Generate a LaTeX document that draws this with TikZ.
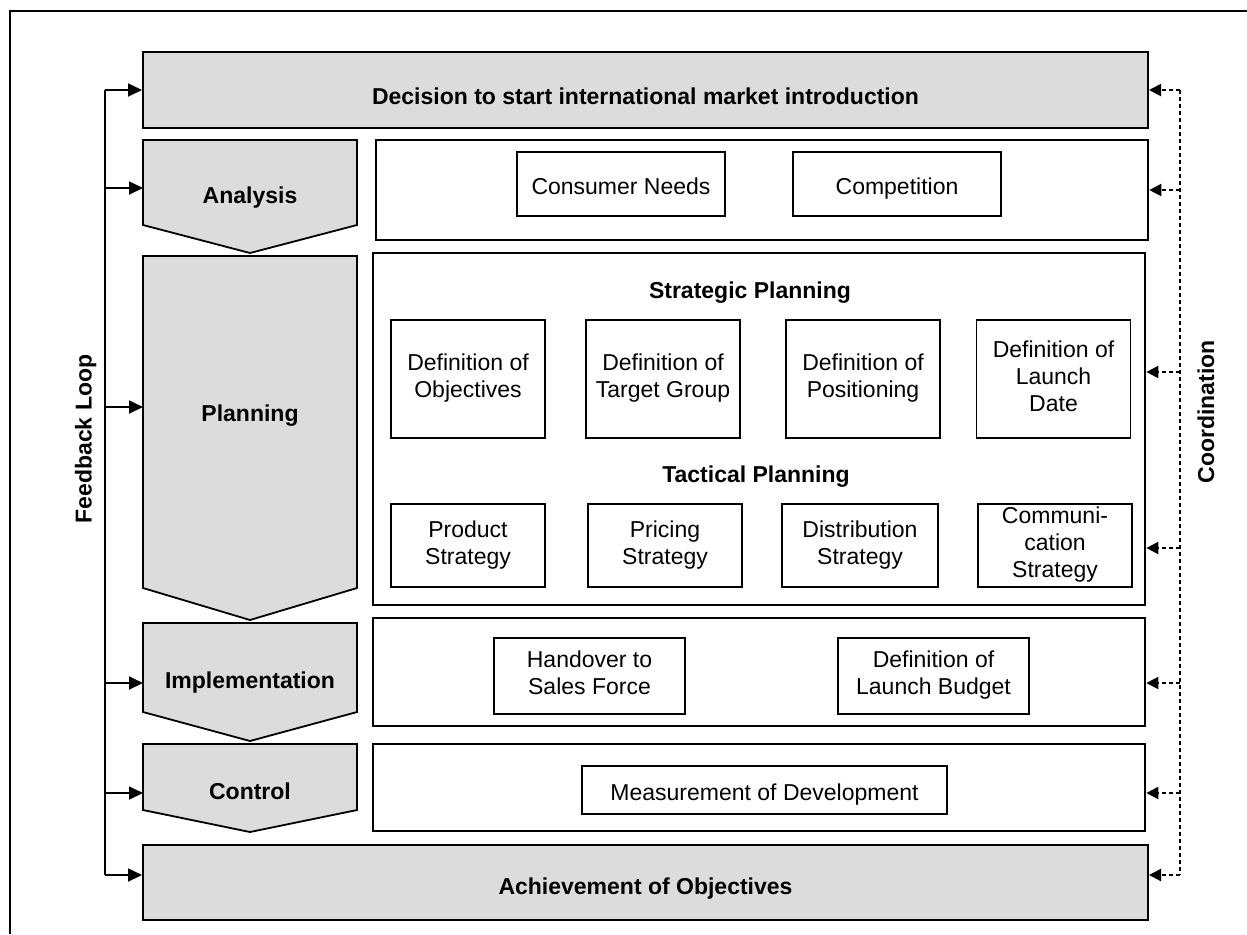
\documentclass[tikz,border=0pt]{standalone}
\usepackage{fontspec}
\setmainfont{Liberation Sans}
\usetikzlibrary{arrows.meta}

\definecolor{boxgray}{RGB}{220,220,220}
\newcommand{\dfont}{\fontsize{11.5pt}{13.5pt}\selectfont}

\tikzset{
    every node/.style={font=\dfont},
    frame/.style={line width=1.4pt},
    bar/.style={draw, line width=1pt, fill=boxgray, minimum width=502.5pt, inner sep=0pt},
    phase/.style={draw, line width=0.9pt, fill=boxgray, line join=miter},
    hdr/.style={anchor=base, font=\dfont\bfseries, inner sep=0pt},
    panel/.style={draw, line width=1.3pt, minimum width=386pt, inner sep=0pt},
    item/.style={draw, line width=0.9pt, align=center, inner sep=0pt,
        execute at begin node={\rule{0pt}{13.4pt}},
        execute at end node={\rule[-3pt]{0pt}{3pt}}},
    fbarr/.style={line width=0.9pt, -{Triangle[length=7pt,width=6.5pt]}},
    coarr/.style={line width=1pt, dash pattern=on 2pt off 1.5pt, -{Triangle[length=6pt,width=6pt]}}
}

\begin{document}
\begin{tikzpicture}[x=0.5pt,y=-0.5pt]
    \useasboundingbox (0,0) rectangle (1247,934);
    \draw[frame] (10,934) -- (10,11) -- (1247,11);

    % start and end
    \node[bar, minimum height=38pt] (dec) at (645.5,90) {};
    \node[hdr] (dectxt) at (645.5,104.5) {Decision to start international market introduction};
    \node[bar, minimum height=37.5pt] (ach) at (645.5,882.5) {};
    \node[hdr] (achtxt) at (645.5,894.5) {Achievement of Objectives};

    % phases
    \draw[phase] (143,140) -- (357,140) -- (357,225) -- (250,253) -- (143,225) -- cycle;
    \node[hdr] (ana) at (250,203.5) {Analysis};
    \draw[phase] (143,256) -- (357,256) -- (357,588) -- (250,620) -- (143,588) -- cycle;
    \node[hdr] (plan) at (250,421.5) {Planning};
    \draw[phase] (143,623) -- (357,623) -- (357,712) -- (250,741) -- (143,712) -- cycle;
    \node[hdr] (impl) at (250,688.5) {Implementation};
    \draw[phase] (143,744) -- (357,744) -- (357,810) -- (250,832) -- (143,810) -- cycle;
    \node[hdr] (ctrl) at (250,799.5) {Control};
    \coordinate (anain) at (143,188);
    \coordinate (planin) at (143,407);
    \coordinate (implin) at (143,683);
    \coordinate (ctrlin) at (143,793);

    % panels
    \node[panel, minimum height=50pt] (anapan) at (762,190) {};
    \node[panel, minimum height=176pt] (planpan) at (759,429) {};
    \node[panel, minimum height=54pt] (implpan) at (759,672) {};
    \node[panel, minimum height=43.5pt] (ctrlpan) at (759,787.5) {};

    % analysis
    \node[item, minimum width=104pt, minimum height=32pt] (cons) at (621,184) {Consumer Needs};
    \node[item, minimum width=104pt, minimum height=32pt] (comp) at (897,184) {Competition};

    % planning
    \node[hdr] (strat) at (750,298.5) {Strategic Planning};
    \node[item, minimum width=77pt, minimum height=59pt] (obj) at (468,379) {Definition of\\Objectives};
    \node[item, minimum width=77pt, minimum height=59pt] (tgt) at (663,379) {Definition of\\Target Group};
    \node[item, minimum width=77pt, minimum height=59pt] (pos) at (863,379) {Definition of\\Positioning};
    \node[item, minimum width=77pt, minimum height=59pt] (date) at (1053.5,379) {Definition of\\Launch\\Date};
    \node[hdr] (tact) at (756,482) {Tactical Planning};
    \node[item, minimum width=77pt, minimum height=41.5pt] (prod) at (468,545.5) {Product\\Strategy};
    \node[item, minimum width=77pt, minimum height=41.5pt] (price) at (665,545.5) {Pricing\\Strategy};
    \node[item, minimum width=78pt, minimum height=41.5pt] (distr) at (860,545.5) {Distribution\\Strategy};
    \node[item, minimum width=77pt, minimum height=41.5pt] (comm) at (1055,545.5) {Communi-\\cation\\Strategy};

    % implementation and control
    \node[item, minimum width=95.5pt, minimum height=38pt] (hand) at (589.5,676) {Handover to\\Sales Force};
    \node[item, minimum width=95.5pt, minimum height=38pt] (budg) at (933.5,676) {Definition of\\Launch Budget};
    \node[item, minimum width=182.5pt, minimum height=24pt] (meas) at (764.5,790) {Measurement of Development};

    % feedback loop
    \coordinate (fbtop) at (105,90);
    \coordinate (fbbot) at (105,875);
    \draw[line width=0.9pt] (fbtop) -- (fbbot);
    \draw[fbarr] (fbtop) -- (dec.west);
    \draw[fbarr] (fbtop |- anain) -- (anain);
    \draw[fbarr] (fbtop |- planin) -- (planin);
    \draw[fbarr] (fbtop |- implin) -- (implin);
    \draw[fbarr] (fbtop |- ctrlin) -- (ctrlin);
    \draw[fbarr] (fbbot) -- (ach.west |- fbbot);
    \node[hdr, rotate=90] (fbl) at (91.5,439) {Feedback Loop};

    % coordination
    \coordinate (cotop) at (1180,90);
    \coordinate (cobot) at (1180,875);
    \coordinate (co3) at (1180,372);
    \coordinate (co4) at (1180,548);
    \coordinate (co5) at (1180,683);
    \coordinate (co6) at (1180,793);
    \draw[line width=1pt, dash pattern=on 2pt off 1.5pt] (cotop) -- (cobot);
    \draw[coarr] (cotop) -- (dec.east);
    \draw[coarr] (cotop |- anapan) -- (anapan.east);
    \draw[coarr] (co3) -- (planpan.east |- co3);
    \draw[coarr] (co4) -- (planpan.east |- co4);
    \draw[coarr] (co5) -- (implpan.east |- co5);
    \draw[coarr] (co6) -- (ctrlpan.east |- co6);
    \draw[coarr] (cobot) -- (ach.east |- cobot);
    \node[hdr, rotate=90] (coord) at (1214,412) {Coordination};
\end{tikzpicture}
\end{document}
